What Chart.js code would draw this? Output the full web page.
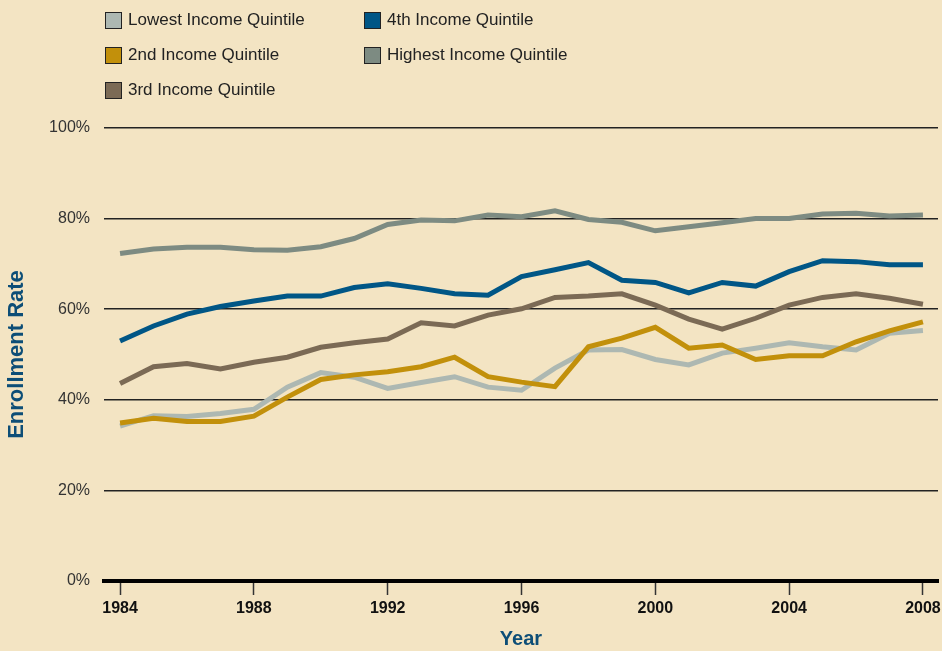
<!DOCTYPE html>
<html>
<head>
<meta charset="utf-8">
<script src="https://cdn.jsdelivr.net/npm/chart.js@4.4.1/dist/chart.umd.min.js"></script>
<style>
  html, body { margin: 0; padding: 0; background: #f3e4c3; }
  #wrap { position: relative; width: 942px; height: 651px; }
  #legend { position: absolute; left: 105px; top: 8px; width: 520px; font-family: "Liberation Sans", Arial, sans-serif; font-size: 17px; color: #222; }
  .item { position: absolute; display: flex; align-items: center; height: 24px; }
  .box { width: 15px; height: 15px; border: 1px solid #222; margin-right: 6px; }
</style>
</head>
<body>
<div id="wrap">
  <canvas id="myChart" width="942" height="651"></canvas>
  <div id="legend"></div>
</div>
<script>
const years = [1984, 1985, 1986, 1987, 1988, 1989, 1990, 1991, 1992, 1993, 1994, 1995, 1996,
               1997, 1998, 1999, 2000, 2001, 2002, 2003, 2004, 2005, 2006, 2007, 2008];
const tickYears = [1984, 1988, 1992, 1996, 2000, 2004, 2008];

const lowest  = [34.2, 36.5, 36.3, 37.0, 37.9, 42.8, 46.0, 45.0, 42.5, 43.8, 45.1, 42.8, 42.1,
                 47.0, 51.0, 51.1, 48.9, 47.7, 50.3, 51.4, 52.6, 51.7, 51.0, 54.7, 55.3];
const second  = [34.9, 35.9, 35.2, 35.2, 36.4, 40.6, 44.5, 45.5, 46.2, 47.3, 49.4, 45.1, 43.9,
                 42.9, 51.7, 53.6, 56.0, 51.4, 52.1, 48.9, 49.7, 49.7, 52.8, 55.2, 57.2];
const third   = [43.6, 47.3, 48.0, 46.8, 48.3, 49.4, 51.6, 52.6, 53.4, 57.0, 56.3, 58.7, 60.1,
                 62.6, 62.9, 63.4, 60.9, 57.8, 55.6, 58.0, 60.9, 62.6, 63.4, 62.4, 61.1];
const fourth  = [53.0, 56.3, 58.9, 60.6, 61.8, 62.9, 62.9, 64.8, 65.6, 64.6, 63.4, 63.1, 67.2,
                 68.7, 70.3, 66.4, 65.9, 63.6, 65.9, 65.1, 68.3, 70.7, 70.5, 69.8, 69.8];
const highest = [72.3, 73.3, 73.7, 73.7, 73.1, 73.0, 73.8, 75.6, 78.7, 79.7, 79.5, 80.8, 80.4,
                 81.7, 79.8, 79.2, 77.3, 78.2, 79.1, 80.0, 80.0, 81.0, 81.2, 80.6, 80.8];

function pts(vals)
{
    return years.map(function (y, i) { return { x: y, y: vals[i] }; });
}

function mkSet(label, vals, color)
{
    return {
        label: label,
        data: pts(vals),
        borderColor: color,
        backgroundColor: color,
        borderWidth: 5,
        pointRadius: 0,
        tension: 0,
        fill: false
    };
}

// drawing order: last one ends on top
const sets = [
    mkSet('Highest Income Quintile', highest, '#7d8b82'),
    mkSet('4th Income Quintile', fourth, '#005686'),
    mkSet('3rd Income Quintile', third, '#7b6a55'),
    mkSet('2nd Income Quintile', second, '#c2900b'),
    mkSet('Lowest Income Quintile', lowest, '#adb8b2')
];

const titleColor = '#0d4e77';

const ctx = document.getElementById('myChart');
const myChart = new Chart(ctx, {
    type: 'line',
    data: { datasets: sets },
    options: {
        responsive: false,
        animation: false,
        layout: { padding: { top: 128, right: 4, left: 0, bottom: 0 } },
        plugins: {
            legend: { display: false },
            tooltip: { enabled: false }
        },
        scales: {
            x: {
                type: 'linear',
                min: 1983.52,
                max: 2008.45,
                afterBuildTicks: function (scale) {
                    scale.ticks = tickYears.map(function (v) { return { value: v }; });
                },
                afterFit: function (scale) {
                    scale.height = 70;
                    scale.paddingLeft = 0;
                    scale.paddingRight = 0;
                },
                ticks: {
                    autoSkip: false,
                    maxRotation: 0,
                    padding: 4,
                    color: '#111',
                    font: { family: '"Liberation Sans Narrow", "Liberation Sans", Arial', size: 16, weight: 'bold' },
                    callback: function (v) { return String(v); }
                },
                grid: {
                    drawOnChartArea: false,
                    drawTicks: true,
                    tickLength: 14,
                    tickColor: '#333',
                    tickWidth: 1.5
                },
                border: { display: true, color: '#000', width: 4 },
                title: {
                    display: true,
                    text: 'Year',
                    color: titleColor,
                    padding: { top: 6, bottom: 0 },
                    font: { family: '"Liberation Sans Narrow", "Liberation Sans", Arial', size: 20, weight: 'bold' }
                }
            },
            y: {
                min: 0,
                max: 100,
                afterFit: function (scale) { scale.width = 104; },
                ticks: {
                    stepSize: 20,
                    padding: 14,
                    color: '#333',
                    font: { family: '"Liberation Sans", Arial', size: 16 },
                    callback: function (v) { return v + '%'; }
                },
                grid: {
                    color: '#222',
                    lineWidth: 1.5,
                    drawTicks: false
                },
                border: { display: false },
                title: {
                    display: true,
                    text: 'Enrollment Rate',
                    color: titleColor,
                    padding: { top: 4, bottom: 0 },
                    font: { family: '"Liberation Sans", Arial', size: 22, weight: 'bold' }
                }
            }
        }
    }
});

// legend in two columns, built from the datasets
const legendOrder = ['Lowest Income Quintile', '4th Income Quintile', '2nd Income Quintile',
                     'Highest Income Quintile', '3rd Income Quintile'];
const legendEl = document.getElementById('legend');
for (let i = 0; i < legendOrder.length; i++)
{
    const ds = sets.find(function (s) { return s.label == legendOrder[i]; });
    const item = document.createElement('div');
    item.className = 'item';
    item.style.left = (i % 2 == 0 ? 0 : 259) + 'px';
    item.style.top = (Math.floor(i / 2) * 35) + 'px';
    item.innerHTML = '<span class="box" style="background:' + ds.borderColor + '"></span>' + ds.label;
    legendEl.appendChild(item);
}
</script>
</body>
</html>
